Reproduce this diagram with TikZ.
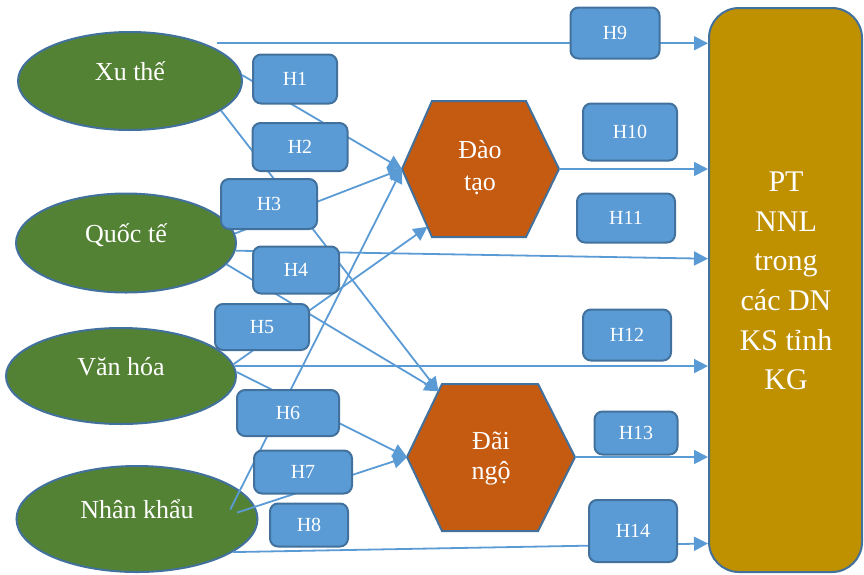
\documentclass[tikz,border=0pt]{standalone}
\usepackage{fontspec}
\setmainfont{Liberation Serif}
\usepackage{xcolor}
\usetikzlibrary{shapes.geometric, arrows.meta}

\definecolor{verde}{HTML}{548235}
\definecolor{azul}{HTML}{5B9BD5}
\definecolor{borda}{HTML}{41719C}
\definecolor{laranja}{HTML}{C55A11}
\definecolor{ouro}{HTML}{BF9000}

\tikzset{
  fator/.style={ellipse, draw=borda, line width=2pt, fill=verde, text=white,
    inner sep=0pt, font=\fontsize{26}{31}\selectfont, text height=18pt, text depth=20pt},
  hip/.style={rectangle, rounded corners=8pt, draw=borda, line width=2pt, fill=azul,
    text=white, inner sep=0pt, font=\fontsize{20}{24}\selectfont},
  hexa/.style={draw=borda, line width=2pt, fill=laranja},
  meio/.style={text=white, align=center, inner sep=0pt},
  alvo/.style={rectangle, rounded corners=30pt, draw=borda, line width=2pt, fill=ouro,
    minimum width=153pt, minimum height=564pt},
  seta/.style={draw=azul, line width=1.8pt, -{Triangle[length=14pt,width=14pt]}}
}

\begin{document}
\begin{tikzpicture}[x=1pt, y=-1pt]
  \useasboundingbox (0,0) rectangle (864,574);

  % Fatores (elipses)
  \node[fator, minimum width=224pt, minimum height=98pt] (xt) at (130,81) {Xu thế};
  \node[fator, minimum width=220pt, minimum height=99pt] (qt) at (126,243) {Quốc tế};
  \node[fator, minimum width=230pt, minimum height=96pt] (vh) at (121,376) {Văn hóa};
  \node[fator, minimum width=241pt, minimum height=106pt] (nk) at (137,519) {Nhân khẩu};

  % Hexagonos
  \filldraw[hexa] (432,237) -- coordinate[pos=0.15] (dt-low) (402,169) coordinate (dt-w)
    -- (432,101) -- (526,101) -- (559,169) coordinate (dt-e) -- (526,237) -- cycle;
  \node[meio, font=\fontsize{26}{32}\selectfont] (dt) at (480,168) {Đào\\tạo};

  \filldraw[hexa] (407,457) coordinate (dn-w) -- coordinate[pos=0.9] (dn-top) (442,384)
    -- (538,384) -- (575,457) coordinate (dn-e) -- (538,531) -- (442,531) -- cycle;
  \node[meio, font=\fontsize{26}{30}\selectfont] (dn) at (491,459) {Đãi\\ngộ};

  % Alvo
  \node[alvo] (tg) at (785.5,290) {};
  \node[meio, font=\fontsize{30}{39.6}\selectfont] (tg-txt) at (786,281)
    {PT\\NNL\\trong\\các DN\\KS tỉnh\\KG};

  % Ligacoes
  \draw[seta, shorten <=13pt] (xt.27) -- (xt.27 -| tg.west);
  \draw[seta] (xt.3) -- (dt-w);
  \draw[seta] (xt.-18) -- (dn-top);
  \draw[seta] (qt.5) -- (dt-w);
  \draw[seta] (qt.-4) -- (tg.158);
  \draw[seta] (qt.-12) -- (dn-top);
  \draw[seta] (vh.6) -- (dt-low);
  \draw[seta] (vh.5) -- (vh.5 -| tg.west);
  \draw[seta] (vh.2) -- (dn-w);
  \draw[seta] ([xshift=-25pt, yshift=-3pt]nk.6) -- (dt-w);
  \draw[seta] ([xshift=-18pt, yshift=-6pt]nk.6) -- (dn-w);
  \draw[seta] (nk.-19) -- (tg.253);
  \draw[seta] (dt-e) -- (dt-e -| tg.west);
  \draw[seta] (dn-e) -- (dn-e -| tg.west);

  % Hipoteses
  \node[hip, minimum width=84pt, minimum height=49pt] (h1) at (295,79) {H1};
  \node[hip, minimum width=95pt, minimum height=48pt] (h2) at (300,147) {H2};
  \node[hip, minimum width=96pt, minimum height=50pt] (h3) at (269,204) {H3};
  \node[hip, minimum width=86pt, minimum height=47pt] (h4) at (296,270) {H4};
  \node[hip, minimum width=94pt, minimum height=46pt] (h5) at (262,327) {H5};
  \node[hip, minimum width=102pt, minimum height=46pt] (h6) at (288,413) {H6};
  \node[hip, minimum width=98pt, minimum height=43pt] (h7) at (303,472) {H7};
  \node[hip, minimum width=78pt, minimum height=43pt] (h8) at (309,525) {H8};
  \node[hip, minimum width=89pt, minimum height=51pt] (h9) at (615,33) {H9};
  \node[hip, minimum width=94pt, minimum height=57pt] (h10) at (630,132) {H10};
  \node[hip, minimum width=98pt, minimum height=49pt] (h11) at (626,218) {H11};
  \node[hip, minimum width=88pt, minimum height=51pt] (h12) at (627,335) {H12};
  \node[hip, minimum width=83pt, minimum height=43pt] (h13) at (636,433) {H13};
  \node[hip, minimum width=88pt, minimum height=62pt] (h14) at (633,531) {H14};
\end{tikzpicture}
\end{document}
